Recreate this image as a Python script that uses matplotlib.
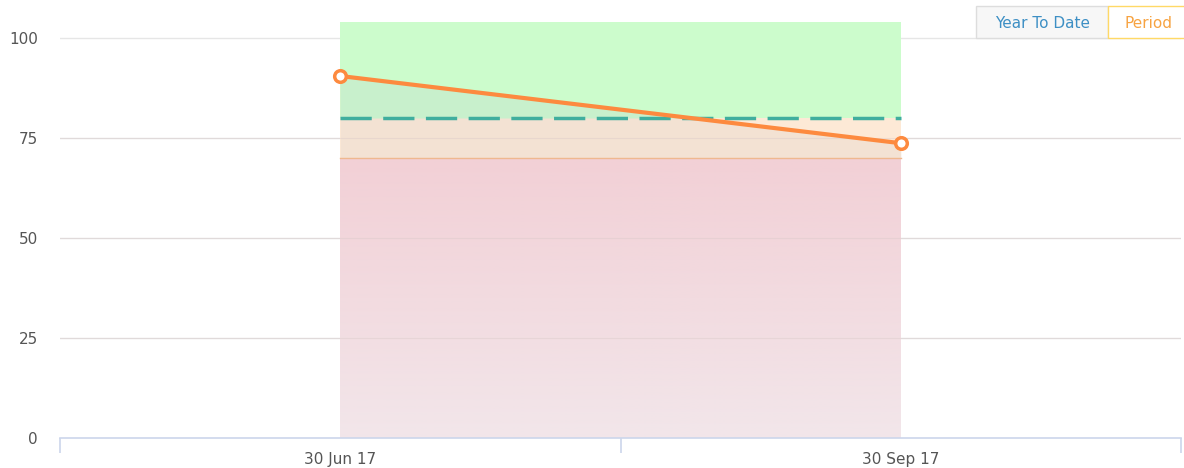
import matplotlib.pyplot as plt
import numpy as np
from matplotlib.patches import Rectangle
from matplotlib.colors import LinearSegmentedColormap

categories = ['30 Jun 17', '30 Sep 17']
values = [90.5, 73.7]
target = 80
red_band = (0, 70)
amber_band = (70, 80)
green_band = (80, 104)
y_ticks = [0, 25, 50, 75, 100]

fig = plt.figure(figsize=(11.84, 4.68), dpi=100)
W, H = 1184, 468
ax = fig.add_axes([60 / W, 30 / H, 1121 / W, 416 / H])

x = np.arange(len(categories))
vals = np.array(values)

# bands
red_cmap = LinearSegmentedColormap.from_list('r', ['#f2e6ea', '#f2d0d6'])
grad = np.linspace(0, 1, 200).reshape(-1, 1)
ax.imshow(grad, cmap=red_cmap, origin='lower', aspect='auto',
          extent=[x[0], x[-1], red_band[0], red_band[1]], zorder=1)
ax.add_patch(Rectangle((x[0], amber_band[0]), x[-1] - x[0], amber_band[1] - amber_band[0],
                       facecolor='#fde9d6', edgecolor='none', zorder=1))
ax.add_patch(Rectangle((x[0], green_band[0]), x[-1] - x[0], green_band[1] - green_band[0],
                       facecolor='#ccfccc', edgecolor='none', zorder=1))

# slightly darker tint of the bands under the series
ax.fill_between(x, vals, amber_band[0], color='#f3e2d3', lw=0, zorder=1.2)
ax.fill_between(x, vals, green_band[0], where=vals >= green_band[0],
                interpolate=True, color='#c8f0cc', lw=0, zorder=1.3)
ax.plot([x[0], x[-1]], [red_band[1]] * 2, color='#efb88f', lw=1, zorder=2)

ax.set_xlim(-0.5, 1.5)
ax.set_ylim(0, 104)

# grid
for yv in y_ticks[1:]:
    ax.axhline(yv, color='#e6e6e6', lw=1, zorder=0.5)
for yv in y_ticks[1:4]:
    ax.axhline(yv, color='#d8c8c8', lw=0.8, alpha=0.4, zorder=1.5)

# target
ax.plot([x[0], x[-1]], [target, target], color='#40ae9e', lw=2.5,
        dashes=(9, 3.3), zorder=3)

# series
ax.plot(x, vals, color='#fd8a3f', lw=3, zorder=4, solid_capstyle='round')
ax.scatter(x, vals, s=70, facecolor='white', edgecolor='#fd8a3f',
           linewidth=2.5, zorder=5)

# axes styling
for s in ['top', 'right', 'left']:
    ax.spines[s].set_visible(False)
ax.spines['bottom'].set_color('#ccd6eb')
ax.spines['bottom'].set_linewidth(1.2)

ax.set_yticks(y_ticks)
ax.set_yticklabels([str(v) for v in y_ticks], fontsize=11, color='#555555')
ax.tick_params(axis='y', length=0, pad=16)

ax.set_xticks([-0.5, 0.5, 1.5])
ax.set_xticklabels([])
ax.tick_params(axis='x', which='major', length=11, color='#ccd6eb', width=1.2)
ax.set_xticks(x, minor=True)
ax.set_xticklabels(categories, minor=True, fontsize=11, color='#555555')
ax.tick_params(axis='x', which='minor', length=0, pad=10)

# buttons
fig.patches.append(Rectangle((976 / W, (H - 38) / H), 132 / W, 32 / H,
                             transform=fig.transFigure, facecolor='#f7f7f7',
                             edgecolor='#dddddd', lw=1))
fig.patches.append(Rectangle((1108 / W, (H - 38) / H), 80 / W, 32 / H,
                             transform=fig.transFigure, facecolor='white',
                             edgecolor='#ffd966', lw=1))
fig.text(1043 / W, (H - 23) / H, 'Year To Date', ha='center', va='center',
         fontsize=11, color='#3d8fc4')
fig.text(1148 / W, (H - 23) / H, 'Period', ha='center', va='center',
         fontsize=11, color='#f7a341')

fig.savefig('out.png', dpi=100)
